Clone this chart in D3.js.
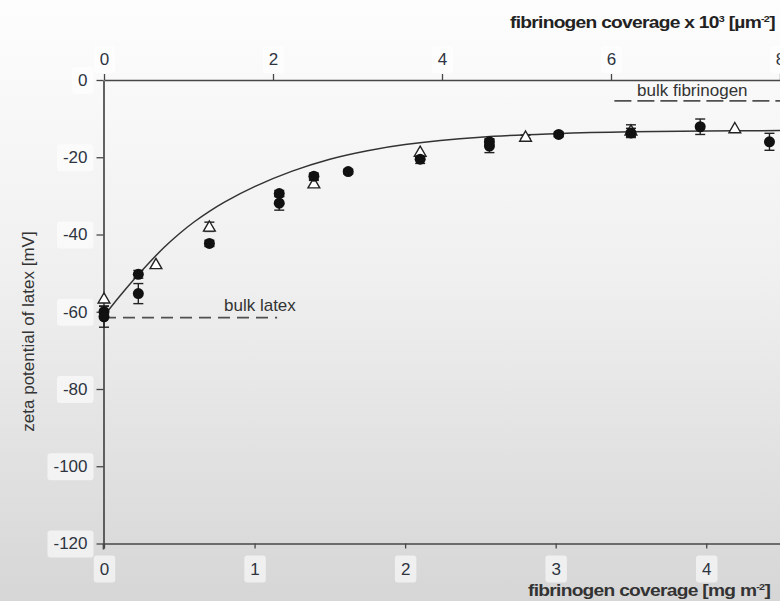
<!DOCTYPE html>
<html><head><meta charset="utf-8">
<script src="https://cdn.jsdelivr.net/npm/d3@7"></script>
<style>
html,body{margin:0;padding:0;background:#fff;}
svg{display:block;font-family:"Liberation Sans",Arial,sans-serif;}
</style></head>
<body>
<script>
// ---- data ----
const bottomTicks = [0, 1, 2, 3, 4];
const topTicks = [0, 2, 4, 6, 8];
const yTicks = [0, -20, -40, -60, -80, -100, -120];

// filled circles: coverage [mg m^-2], zeta [mV], error
const filledX = [0, 0, 0.228, 0.228, 0.70, 1.164, 1.164, 1.394, 1.622, 2.10, 2.56, 2.56, 3.02, 3.50, 3.96, 4.42];
const filledY = [-60.0, -61.3, -50.3, -55.3, -42.3, -29.4, -31.9, -24.9, -23.7, -20.5, -16.0, -17.1, -14.1, -13.7, -12.1, -16.0];
const filledErr = [1.5, 2.7, 1.0, 2.6, 0.8, 0.8, 1.8, 0.8, 0.6, 1.1, 0.8, 1.7, 0.6, 1.2, 2.0, 2.2];

// open triangles
const triX = [0, 0.345, 0.70, 1.394, 2.10, 2.80, 3.50, 4.19];
const triY = [-56.6, -47.7, -38.0, -26.8, -18.6, -14.7, -13.1, -12.5];
const triErr = [0, 0, 1.2, 0.8, 0, 0.4, 1.5, 0];

// fitted curve
const fitX = [0.01, 0.1, 0.2, 0.3, 0.4, 0.5, 0.6, 0.7, 0.8, 1.0, 1.25, 1.5, 1.75, 2.0, 2.5, 3.0, 3.5, 4.0, 4.5];
const fitY = [-60.6, -56.2, -51.6, -47.3, -43.3, -39.8, -36.7, -34.0, -31.6, -27.6, -23.6, -20.5, -18.3, -16.7, -14.8, -13.9, -13.4, -13.2, -13.1];

// reference levels
const bulkLatex = -61.5, bulkLatexEnd = 1.15;
const bulkFib = -5.4, bulkFibStart = 3.39, bulkFibEnd = 4.6;

// ---- drawing ----
const W = 780, H = 601;
const svg = d3.select("body").append("svg").attr("width", W).attr("height", H);
const defs = svg.append("defs");
const grad = defs.append("linearGradient").attr("id","bg").attr("x1",0).attr("y1",0).attr("x2",0).attr("y2",1);
grad.append("stop").attr("offset","0%").attr("stop-color","#fdfdfd");
grad.append("stop").attr("offset","45%").attr("stop-color","#f0f0f0");
grad.append("stop").attr("offset","100%").attr("stop-color","#d6d6d6");
svg.append("rect").attr("width",W).attr("height",H).attr("fill","url(#bg)");

const x = d3.scaleLinear().domain([0, 4.49]).range([104, 780]);
const xTop = d3.scaleLinear().domain([0, 8.0]).range([104, 780]);
const y = d3.scaleLinear().domain([0, -120]).range([80, 543.5]);

const axisCol = "#474747", textCol = "#2e3440";
const fmt = d => String(d);

function styleAxis(g, size){
  g.selectAll("path.domain").attr("stroke", axisCol).attr("stroke-width", 1.7);
  g.selectAll(".tick line").attr("stroke", axisCol).attr("stroke-width", 1.3);
  g.selectAll(".tick text").attr("fill", textCol).style("font-size", size+"px");
}
// light patches behind tick labels (as in the reference)
function patches(g){
  g.selectAll(".tick").each(function(){
    const t = d3.select(this).select("text");
    const bb = t.node().getBBox();
    d3.select(this).insert("rect","text")
      .attr("x",bb.x-6).attr("y",bb.y-4).attr("width",bb.width+12).attr("height",bb.height+8)
      .attr("rx",3).attr("fill","#ffffff").attr("opacity",0.6);
  });
}

const gB = svg.append("g").attr("transform",`translate(0,${y(-120)})`)
  .call(d3.axisBottom(x).tickValues(bottomTicks).tickFormat(fmt).tickSize(5).tickSizeOuter(0).tickPadding(14));
styleAxis(gB, 17); patches(gB);

const gT = svg.append("g").attr("transform",`translate(0,${y(0)})`)
  .call(d3.axisTop(xTop).tickValues(topTicks).tickFormat(fmt).tickSize(6).tickSizeOuter(0).tickPadding(9));
styleAxis(gT, 17); patches(gT);

const gL = svg.append("g").attr("transform",`translate(${x(0)-0.5},0)`)
  .call(d3.axisLeft(y).tickValues(yTicks).tickFormat(fmt).tickSize(7).tickSizeOuter(0).tickPadding(9));
styleAxis(gL, 17); patches(gL);
gL.append("line").attr("x1",0).attr("x2",0).attr("y1",y(-120)).attr("y2",y(-120)+6).attr("stroke",axisCol).attr("stroke-width",1.7);

// axis titles
svg.append("text").attr("transform",`translate(34,${(223+440)/2}) rotate(-90)`)
  .attr("text-anchor","middle").attr("fill","#333").style("font-size","17px")
  .text("zeta potential of latex [mV]");

const tt = svg.append("text").attr("transform","translate(510,28) scale(1.2,1)").attr("fill","#222")
  .style("font-size","16px").style("font-weight","bold").style("letter-spacing","-0.6px");
tt.append("tspan").text("fibrinogen coverage x 10");
tt.append("tspan").attr("dy",-6).style("font-size","9px").text("3");
tt.append("tspan").attr("dy",6).text(" [µm");
tt.append("tspan").attr("dy",-6).style("font-size","9px").text("-2");
tt.append("tspan").attr("dy",6).text("]");

const bt = svg.append("text").attr("transform","translate(528,596) scale(1.2,1)").attr("fill","#333")
  .style("font-size","16px").style("font-weight","bold").style("letter-spacing","-0.6px");
bt.append("tspan").text("fibrinogen coverage [mg m");
bt.append("tspan").attr("dy",-6).style("font-size","9px").text("-2");
bt.append("tspan").attr("dy",6).text("]");

// reference dashed lines
svg.append("line").attr("x1",x(0)).attr("x2",x(bulkLatexEnd)).attr("y1",y(bulkLatex)).attr("y2",y(bulkLatex))
  .attr("stroke","#505050").attr("stroke-width",1.8).attr("stroke-dasharray","12,7");
svg.append("text").attr("x",224).attr("y",311).attr("fill","#333").style("font-size","17px").text("bulk latex");

svg.append("line").attr("x1",x(bulkFibStart)).attr("x2",x(bulkFibEnd)).attr("y1",y(bulkFib)).attr("y2",y(bulkFib))
  .attr("stroke","#505050").attr("stroke-width",1.8).attr("stroke-dasharray","17,6");
svg.append("text").attr("x",637).attr("y",96).attr("fill","#333").style("font-size","17px").text("bulk fibrinogen");

// fitted curve
const fit = fitX.map((v,i)=>[v, fitY[i]]);
svg.append("path").datum(fit)
  .attr("d", d3.line().x(d=>x(d[0])).y(d=>y(d[1])).curve(d3.curveCatmullRom))
  .attr("fill","none").attr("stroke","#333").attr("stroke-width",1.5);

// error bars
function errBars(xs, ys, es){
  const g = svg.append("g").attr("stroke","#222").attr("stroke-width",1.4);
  xs.forEach((v,i)=>{
    if(!es[i]) return;
    const cx = x(v), y1 = y(ys[i]-es[i]), y2 = y(ys[i]+es[i]);
    g.append("line").attr("x1",cx).attr("x2",cx).attr("y1",y1).attr("y2",y2);
    g.append("line").attr("x1",cx-5).attr("x2",cx+5).attr("y1",y1).attr("y2",y1);
    g.append("line").attr("x1",cx-5).attr("x2",cx+5).attr("y1",y2).attr("y2",y2);
  });
}
errBars(triX, triY, triErr);
errBars(filledX, filledY, filledErr);

// triangles
const triSym = d3.symbol().type(d3.symbolTriangle).size(60);
svg.append("g").selectAll("path").data(triX.map((v,i)=>[v,triY[i]])).join("path")
  .attr("transform", d=>`translate(${x(d[0])},${y(d[1])+1})`)
  .attr("d", triSym).attr("fill","#fff").attr("stroke","#222").attr("stroke-width",1.4);

// filled circles
svg.append("g").selectAll("circle").data(filledX.map((v,i)=>[v,filledY[i]])).join("circle")
  .attr("cx", d=>x(d[0])).attr("cy", d=>y(d[1])).attr("r",5.5).attr("fill","#111");
</script>
</body></html>
